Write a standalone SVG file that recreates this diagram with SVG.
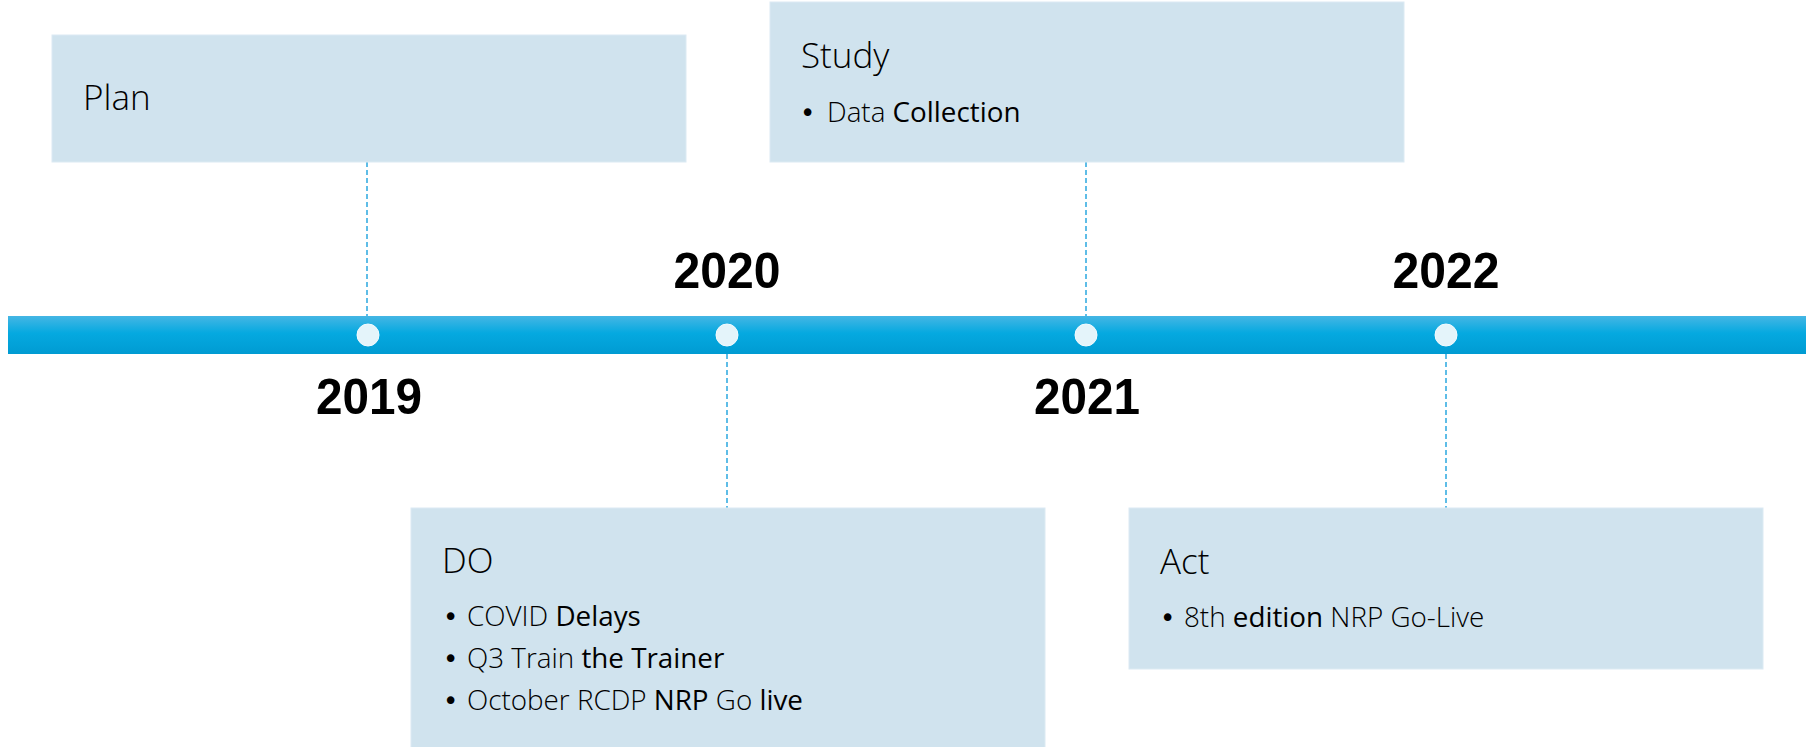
<svg xmlns="http://www.w3.org/2000/svg" width="1816" height="747" viewBox="0 0 1816 747">
<defs>
<linearGradient id="bar" x1="0" y1="0" x2="0" y2="1">
<stop offset="0" stop-color="#45B6E4"/>
<stop offset="0.45" stop-color="#05A9E0"/>
<stop offset="1" stop-color="#009BD2"/>
</linearGradient>
<style>
.box{fill:#D0E3EE;stroke:#DCEAF3;stroke-width:1}
.title{font-family:"Open Sans","Liberation Sans",sans-serif;font-size:35px;font-weight:300;fill:#000}
.item{font-family:"Open Sans","Liberation Sans",sans-serif;font-size:27.8px;font-weight:300;fill:#000}
.reg{font-weight:400}
.bul{font-family:"DejaVu Sans",sans-serif;font-weight:400;font-size:26px}
.year{font-family:"Liberation Sans",Arial,sans-serif;font-size:50px;font-weight:700;fill:#000;text-anchor:middle}
.conn{stroke:#2AA8DF;stroke-width:1.5;stroke-dasharray:5 3;fill:none}
.dot{fill:#E4F4FA;stroke:#F4FBFE;stroke-width:1}
</style>
</defs>
<rect width="1816" height="747" fill="#FFFFFF"/>

<g id="connectors">
<line class="conn" x1="367" y1="162" x2="367" y2="316"/>
<line class="conn" x1="1086" y1="162" x2="1086" y2="316"/>
<line class="conn" x1="727" y1="354" x2="727" y2="508"/>
<line class="conn" x1="1446" y1="354" x2="1446" y2="508"/>
</g>

<g id="timeline">
<rect x="8" y="316" width="1798" height="38" fill="url(#bar)"/>
<circle class="dot" cx="368" cy="335" r="11"/>
<circle class="dot" cx="727" cy="335" r="11"/>
<circle class="dot" cx="1086" cy="335" r="11"/>
<circle class="dot" cx="1446" cy="335" r="11"/>
</g>

<g id="years">
<text class="year" x="369" y="414" textLength="106" lengthAdjust="spacingAndGlyphs">2019</text>
<text class="year" x="727" y="288" textLength="107" lengthAdjust="spacingAndGlyphs">2020</text>
<text class="year" x="1087" y="414" textLength="106" lengthAdjust="spacingAndGlyphs">2021</text>
<text class="year" x="1446" y="288" textLength="107" lengthAdjust="spacingAndGlyphs">2022</text>
</g>

<g id="plan">
<rect class="box" x="52" y="35" width="634" height="127"/>
<text class="title" x="83" y="110">Plan</text>
</g>

<g id="study">
<rect class="box" x="770" y="2" width="634" height="160"/>
<text class="title" x="801" y="68">Study</text>
<text class="item" y="122"><tspan class="bul" x="800">•</tspan><tspan x="827">Data </tspan><tspan class="reg">Collection</tspan></text>
</g>

<g id="do">
<rect class="box" x="411" y="508" width="634" height="245"/>
<text class="title" x="442" y="573">DO</text>
<text class="item" y="626"><tspan class="bul" x="443">•</tspan><tspan x="467">COVID </tspan><tspan class="reg">Delays</tspan></text>
<text class="item" y="668"><tspan class="bul" x="443">•</tspan><tspan x="467">Q3 Train </tspan><tspan class="reg">the Trainer</tspan></text>
<text class="item" y="710"><tspan class="bul" x="443">•</tspan><tspan x="467">October RCDP </tspan><tspan class="reg">NRP</tspan><tspan> Go </tspan><tspan class="reg">live</tspan></text>
</g>

<g id="act">
<rect class="box" x="1129" y="508" width="634" height="161"/>
<text class="title" x="1160" y="574">Act</text>
<text class="item" y="627"><tspan class="bul" x="1160">•</tspan><tspan x="1184">8th </tspan><tspan class="reg">edition</tspan><tspan> NRP Go-Live</tspan></text>
</g>
</svg>
